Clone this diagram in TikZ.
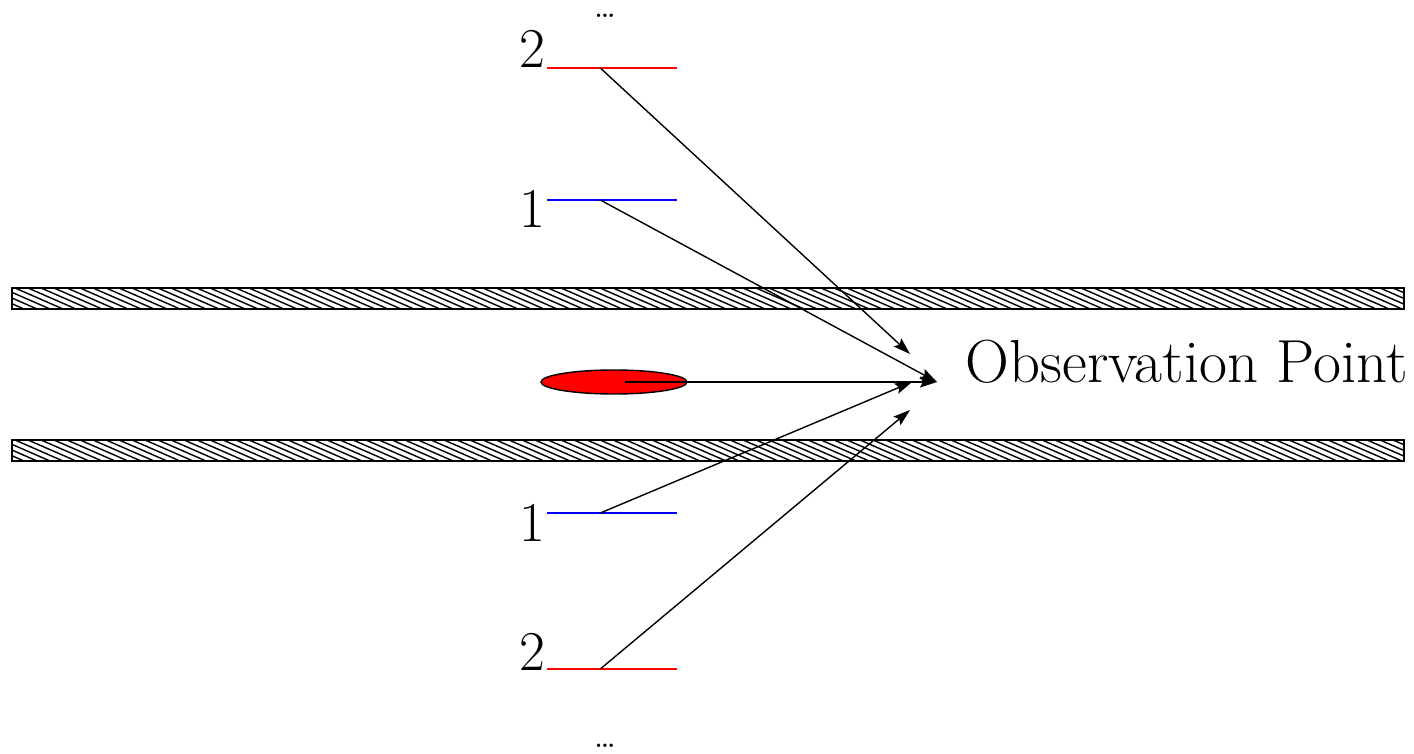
\documentclass[tikz,border=0pt]{standalone}
\usepackage{fontspec}
\usetikzlibrary{arrows.meta, positioning, calc, shapes.geometric}

\begin{document}
\begin{tikzpicture}[
    >={Stealth[length=0.17cm, width=0.11cm, inset=0.03cm]},
    wall/.style={draw, line width=0.5pt},
    hatch/.style={line width=0.4pt},
    lvlone/.style={blue, line width=0.8pt},
    lvltwo/.style={red, line width=0.8pt},
    ray/.style={->, line width=0.4pt},
    lbl/.style={font=\fontsize{16}{19}\selectfont, inner sep=0pt},
    dotlbl/.style={font=\fontsize{9}{10}\selectfont, inner sep=0pt,
                   text height=0.06cm, text depth=0pt},
    obstext/.style={font=\fontsize{17.3}{20}\selectfont, inner sep=0pt},
]
\useasboundingbox (0,0) rectangle (14.14,7.53);

% === Walls ===
\foreach \y in {4.44, 2.92} {
  \begin{scope}
    \clip (0.12,\y) rectangle (14.04,\y+0.21);
    \foreach \x in {-0.5, -0.37, ..., 14.1}
      \draw[hatch] (\x,\y+0.21) -- (\x+0.48,\y);
  \end{scope}
  \draw[wall] (0.12,\y) rectangle (14.04,\y+0.21);
}

% === Source and observation point ===
\node[ellipse, draw, fill=red, line width=0.4pt, inner sep=0pt,
      minimum width=1.46cm, minimum height=0.24cm] (src) at (6.14,3.71) {};
\coordinate (obs) at (9.37,3.71);
\node[obstext, anchor=base west] (obslbl) at (9.65,3.70) {Observation Point};

% === Levels above ===
\coordinate (uptwoL) at (5.47,6.85);
\coordinate (uptwoR) at (6.77,6.85);
\coordinate (uponeL) at (5.47,5.53);
\coordinate (uponeR) at (6.77,5.53);
\draw[lvltwo] (uptwoL) -- (uptwoR);
\draw[lvlone] (uponeL) -- (uponeR);
\node[lbl, anchor=base east] (uptwolbl) at (5.46,6.85) {2};
\node[lbl, anchor=base east] (uponelbl) at (5.46,5.25) {1};
\node[dotlbl, anchor=base] (updots) at (6.05,7.35) {\dots};

% === Levels below ===
\coordinate (dnoneL) at (5.47,2.40);
\coordinate (dnoneR) at (6.77,2.40);
\coordinate (dntwoL) at (5.47,0.84);
\coordinate (dntwoR) at (6.77,0.84);
\draw[lvlone] (dnoneL) -- (dnoneR);
\draw[lvltwo] (dntwoL) -- (dntwoR);
\node[lbl, anchor=base east] (dnonelbl) at (5.46,2.12) {1};
\node[lbl, anchor=base east] (dntwolbl) at (5.46,0.82) {2};
\node[dotlbl, anchor=base] (dndots) at (6.05,0.06) {\dots};

% === Rays ===
\coordinate (uptwoS) at ($(uptwoL)!0.41!(uptwoR)$);
\coordinate (uponeS) at ($(uponeL)!0.41!(uponeR)$);
\coordinate (dnoneS) at ($(dnoneL)!0.41!(dnoneR)$);
\coordinate (dntwoS) at ($(dntwoL)!0.41!(dntwoR)$);
\coordinate (uptwoE) at (9.10,3.99);
\coordinate (dnoneE) at (9.12,3.71);
\coordinate (dntwoE) at (9.10,3.43);

\draw[ray] (uptwoS) -- (uptwoE);
\draw[ray] (uponeS) -- (obs);
\draw[ray] ($(src.center)+(0.11,0)$) -- (obs);
\draw[ray] (dnoneS) -- (dnoneE);
\draw[ray] (dntwoS) -- (dntwoE);

\end{tikzpicture}
\end{document}
